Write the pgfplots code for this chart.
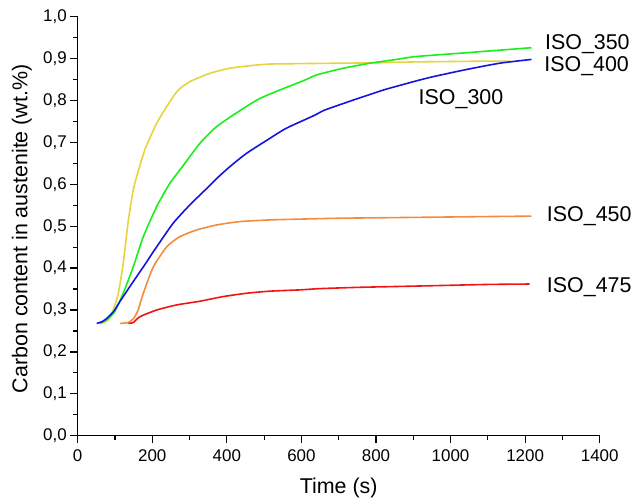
\documentclass[border=0pt]{standalone}
\usepackage{fontspec}
\setmainfont{Liberation Sans}
\usepackage{pgfplots}
\pgfplotsset{compat=1.18}
\definecolor{cyel}{RGB}{230,212,62}
\definecolor{cgrn}{RGB}{25,240,25}
\definecolor{cblu}{RGB}{20,20,225}
\definecolor{corg}{RGB}{245,140,60}
\definecolor{cred}{RGB}{240,20,20}
\begin{document}
\begin{tikzpicture}
\begin{axis}[
  scale only axis, width=522bp, height=419bp,
  xmin=0, xmax=1400, ymin=0, ymax=1,
  axis x line*=bottom, axis y line*=left,
  axis line style={line width=1.4bp, -},
  xtick={0,200,400,600,800,1000,1200,1400},
  ytick={0,0.1,0.2,0.3,0.4,0.5,0.6,0.7,0.8,0.9,1.0},
  minor x tick num=1, minor y tick num=1,
  tick align=outside,
  major tick length=7.5bp, minor tick length=4.5bp,
  every tick/.style={black, line width=1.2bp},
  /pgf/number format/assume math mode=true,
  xticklabel style={font=\fontsize{17}{20}\selectfont, yshift=-3bp, /pgf/number format/1000 sep={}},
  yticklabel style={font=\fontsize{17}{20}\selectfont, /pgf/number format/.cd, fixed, fixed zerofill, precision=1, use comma},
  xlabel={Time (s)},
  ylabel={Carbon content in austenite (wt.\%)},
  label style={font=\fontsize{21.5}{24}\selectfont},
  xlabel style={at={(axis description cs:0.5,-0.124)}, anchor=center},
  ylabel style={at={(axis description cs:-0.107,0.494)}, anchor=center},
  clip=false,
  every axis plot/.append style={line width=1.6bp, line join=round, smooth, tension=0.4},
]
% ISO_400 (yellow)
\addplot[cyel] coordinates {
(60,0.268)(80,0.275)(95,0.300)(109,0.340)(122,0.411)(136,0.515)(149,0.586)(158,0.618)
(180,0.682)(212,0.746)(247,0.797)(270,0.825)(301,0.845)(355,0.865)(408,0.877)(462,0.883)
(516,0.887)(600,0.888)(700,0.889)(800,0.890)(900,0.892)(1000,0.893)(1100,0.894)(1160,0.894)};
% ISO_350 (green)
\addplot[cgrn] coordinates {
(60,0.268)(80,0.278)(100,0.297)(122,0.340)(149,0.403)(176,0.475)(212,0.547)(247,0.602)
(279,0.640)(328,0.698)(373,0.738)(444,0.781)(489,0.805)(542,0.825)(610,0.849)
(641,0.861)(712,0.877)(784,0.889)(847,0.897)(909,0.905)(1043,0.914)(1130,0.920)(1217,0.926)};
% ISO_300 (blue)
\addplot[cblu] coordinates {
(51,0.268)(65,0.272)(78,0.280)(96,0.296)(113,0.320)(140,0.356)(176,0.403)(212,0.451)
(256,0.507)(301,0.551)(346,0.590)(373,0.614)(408,0.642)(453,0.674)(516,0.710)(560,0.734)
(636,0.765)(659,0.776)(739,0.801)(820,0.825)(864,0.836)(909,0.847)(954,0.857)(1043,0.874)
(1132,0.889)(1217,0.898)};
% ISO_450 (orange)
\addplot[corg] coordinates {
(113,0.268)(135,0.270)(150,0.280)(162,0.300)(176,0.340)(203,0.403)(239,0.451)(274,0.475)(319,0.491)
(373,0.503)(435,0.511)(516,0.515)(600,0.517)(700,0.519)(800,0.520)(900,0.521)(1000,0.522)
(1100,0.523)(1217,0.524)};
% ISO_475 (red)
\addplot[cred] coordinates {
(136,0.268)(149,0.270)(167,0.284)(212,0.300)(265,0.312)(328,0.321)(390,0.332)(453,0.340)
(516,0.345)(596,0.348)(649,0.351)(750,0.354)(850,0.356)(953,0.358)(1100,0.361)(1212,0.362)};
\begin{scope}[every node/.style={anchor=base west, inner sep=0pt, font=\fontsize{21.5}{24}\selectfont}]
\node at (axis cs:1253,0.922) {ISO\_350};
\node at (axis cs:1251,0.870) {ISO\_400};
\node at (axis cs:914,0.791) {ISO\_300};
\node at (axis cs:1258,0.511) {ISO\_450};
\node at (axis cs:1258,0.342) {ISO\_475};
\end{scope}
\end{axis}
\pgfresetboundingbox
\path (-77.7bp,-66.3bp) rectangle (558.3bp,435.7bp);
\end{tikzpicture}
\end{document}
